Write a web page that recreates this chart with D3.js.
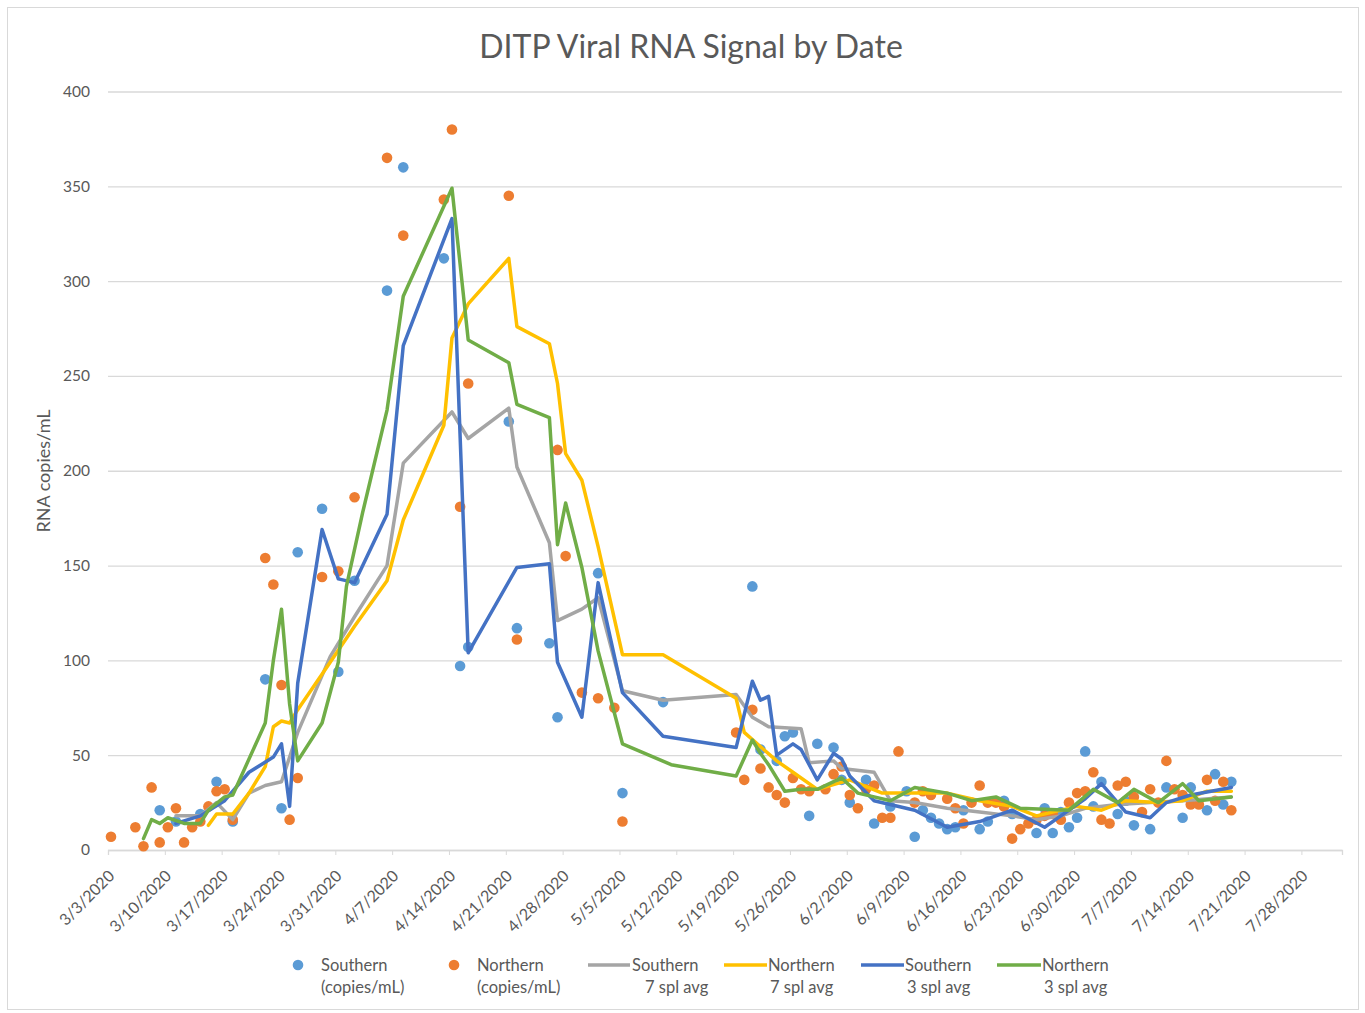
<!DOCTYPE html>
<html><head><meta charset="utf-8">
<script src="https://cdn.jsdelivr.net/npm/d3@7"></script>
<style>
html,body{margin:0;padding:0;background:#fff;}
svg text{font-family:Lato,"Open Sans","Liberation Sans",sans-serif;fill:#595959;}
</style></head>
<body><svg id="c" width="1365" height="1013"></svg>
<script>
const xTickLabels = ["3/3/2020","3/10/2020","3/17/2020","3/24/2020","3/31/2020","4/7/2020","4/14/2020","4/21/2020","4/28/2020","5/5/2020","5/12/2020","5/19/2020","5/26/2020","6/2/2020","6/9/2020","6/16/2020","6/23/2020","6/30/2020","7/7/2020","7/14/2020","7/21/2020","7/28/2020"];
const yTicks = [0,50,100,150,200,250,300,350,400];

const southern = [["3/9",21],["3/11",15],["3/14",19],["3/16",36],["3/18",15],["3/22",90],["3/24",22],["3/26",157],["3/29",180],["3/31",94],["4/2",142],["4/6",295],["4/8",360],["4/13",312],["4/15",97],["4/16",107],["4/21",226],["4/22",117],["4/26",109],["4/27",70],["5/2",146],["5/5",30],["5/10",78],["5/21",139],["5/22",53],["5/24",47],["5/25",60],["5/26",62],["5/28",18],["5/29",56],["5/31",54],["6/1",37],["6/2",25],["6/4",37],["6/5",14],["6/7",23],["6/9",31],["6/10",7],["6/11",21],["6/12",17],["6/13",14],["6/14",11],["6/15",12],["6/16",21],["6/18",11],["6/19",15],["6/21",26],["6/22",19],["6/25",9],["6/26",22],["6/27",9],["6/28",20],["6/29",12],["6/30",17],["7/1",52],["7/2",23],["7/3",36],["7/5",19],["7/6",26],["7/7",13],["7/9",11],["7/11",33],["7/13",17],["7/14",33],["7/16",21],["7/17",40],["7/18",24],["7/19",36]];

const northern = [["3/3",7],["3/6",12],["3/7",2],["3/8",33],["3/9",4],["3/10",12],["3/11",22],["3/12",4],["3/13",12],["3/14",15],["3/15",23],["3/16",31],["3/17",32],["3/18",16],["3/22",154],["3/23",140],["3/24",87],["3/25",16],["3/26",38],["3/29",144],["3/31",147],["4/2",186],["4/6",365],["4/8",324],["4/13",343],["4/14",380],["4/15",181],["4/16",246],["4/21",345],["4/22",111],["4/27",211],["4/28",155],["4/30",83],["5/2",80],["5/4",75],["5/5",15],["5/19",62],["5/20",37],["5/21",74],["5/22",43],["5/23",33],["5/24",29],["5/25",25],["5/26",38],["5/27",32],["5/28",31],["5/30",32],["5/31",40],["6/1",44],["6/2",29],["6/3",22],["6/4",32],["6/5",34],["6/6",17],["6/7",17],["6/8",52],["6/10",25],["6/11",31],["6/12",29],["6/14",27],["6/15",22],["6/16",14],["6/17",25],["6/18",34],["6/19",25],["6/20",25],["6/21",23],["6/22",6],["6/23",11],["6/24",14],["6/25",16],["6/26",18],["6/27",19],["6/28",16],["6/29",25],["6/30",30],["7/1",31],["7/2",41],["7/3",16],["7/4",14],["7/5",34],["7/6",36],["7/7",28],["7/8",20],["7/9",32],["7/10",25],["7/11",47],["7/12",32],["7/13",29],["7/14",24],["7/15",24],["7/16",37],["7/17",26],["7/18",36],["7/19",21]];

const southern7 = [["3/11",18],["3/14",18],["3/16",25],["3/18",16],["3/20",30],["3/22",34],["3/24",36],["3/26",62],["3/30",102],["4/2",123],["4/6",150],["4/8",204],["4/14",231],["4/16",217],["4/21",233],["4/22",202],["4/26",162],["4/27",121],["4/30",127],["5/2",133],["5/5",84],["5/10",79],["5/19",82],["5/21",70],["5/23",65],["5/27",64],["5/28",46],["5/31",47],["6/1",43],["6/5",41],["6/7",26],["6/10",25],["6/14",22],["6/18",20],["6/22",18],["6/25",16],["6/28",18],["7/1",22],["7/5",24],["7/9",25],["7/13",26],["7/19",28]];

const northern7 = [["3/15",13],["3/16",19],["3/18",19],["3/20",30],["3/22",44],["3/23",65],["3/24",68],["3/25",67],["3/26",74],["3/30",99],["4/2",118],["4/6",142],["4/8",174],["4/13",224],["4/14",270],["4/16",288],["4/21",312],["4/22",276],["4/26",267],["4/27",246],["4/28",209],["4/30",195],["5/2",160],["5/5",103],["5/10",103],["5/19",80],["5/20",62],["5/24",47],["5/26",41],["5/29",32],["6/2",37],["6/6",30],["6/9",30],["6/14",30],["6/18",26],["6/22",23],["6/25",18],["6/30",23],["7/3",21],["7/6",26],["7/10",25],["7/13",26],["7/16",31],["7/19",31]];

const southern3 = [["3/11",14],["3/14",18],["3/17",26],["3/20",41],["3/23",49],["3/24",56],["3/25",23],["3/26",88],["3/29",169],["3/31",143],["4/2",141],["4/6",177],["4/8",266],["4/14",333],["4/16",104],["4/22",149],["4/26",151],["4/27",99],["4/30",70],["5/2",141],["5/5",83],["5/10",60],["5/19",54],["5/21",89],["5/22",79],["5/23",81],["5/24",50],["5/26",56],["5/27",53],["5/29",37],["5/31",51],["6/1",48],["6/2",39],["6/5",26],["6/10",21],["6/14",12],["6/18",15],["6/22",21],["6/26",12],["6/28",18],["7/1",27],["7/3",35],["7/6",20],["7/9",17],["7/11",25],["7/14",29],["7/19",33]];

const northern3 = [["3/7",6],["3/8",16],["3/9",14],["3/10",17],["3/12",14],["3/14",14],["3/15",21],["3/17",28],["3/18",29],["3/22",67],["3/23",100],["3/24",127],["3/25",77],["3/26",47],["3/29",67],["3/31",99],["4/1",139],["4/3",178],["4/6",232],["4/8",292],["4/14",349],["4/16",269],["4/21",257],["4/22",235],["4/26",228],["4/27",161],["4/28",183],["4/30",149],["5/2",105],["5/5",56],["5/11",45],["5/19",39],["5/21",58],["5/22",51],["5/23",45],["5/25",31],["5/27",32],["5/29",32],["6/1",38],["6/3",30],["6/5",28],["6/7",26],["6/10",33],["6/14",30],["6/17",26],["6/20",28],["6/23",22],["6/29",21],["7/2",32],["7/5",25],["7/7",32],["7/10",25],["7/13",35],["7/15",26],["7/19",28]];

const parse = d3.utcParse("%m/%d/%Y");
const pd = s => parse(s + "/2020");
const svg = d3.select("#c");

svg.append("rect").attr("x",7.5).attr("y",7.5).attr("width",1351).attr("height",1002)
  .attr("fill","#fff").attr("stroke","#d9d9d9").attr("stroke-width",1);

const x = d3.scaleUtc().domain([pd("3/3"), pd("8/2")]).range([108, 1342]);
const y = d3.scaleLinear().domain([0,400]).range([850, 91.5]);
const markShift = 3; // samples plotted slightly after midnight of their date
const mx = d => x(pd(d[0])) + markShift;

const ya = svg.append("g").attr("transform","translate(108,0)")
  .call(d3.axisLeft(y).tickValues(yTicks).tickSize(-1234).tickPadding(18).tickFormat(d3.format("d")));
ya.select(".domain").remove();
ya.selectAll(".tick line").attr("stroke","#d9d9d9").attr("stroke-width",1.3);
ya.selectAll(".tick text").attr("font-size",15.5).style("font-family","Lato").attr("fill","#595959");

const xa = svg.append("g").attr("transform","translate(0,850)")
  .call(d3.axisBottom(x).tickValues(xTickLabels.map(parse)).tickSize(5)
    .tickFormat((d,i)=>xTickLabels[i]));
xa.select(".domain").attr("stroke","#d9d9d9").attr("stroke-width",1.3);
xa.selectAll(".tick line").attr("stroke","#d9d9d9");
xa.selectAll(".tick text").attr("font-size",16).attr("fill","#505050")
  .attr("text-anchor","end").attr("dy",0).attr("y",0)
  .attr("transform","translate(7,27) rotate(-45)");

svg.append("text").attr("x",691).attr("y",58).attr("text-anchor","middle")
  .attr("font-size",32).text("DITP Viral RNA Signal by Date");
svg.append("text").attr("transform","translate(50,471) rotate(-90)").attr("text-anchor","middle")
  .attr("font-size",18).text("RNA copies/mL");

const sCol = "#5B9BD5", nCol = "#ED7D31";
function dots(data, col){
  svg.append("g").selectAll("circle").data(data).join("circle")
    .attr("cx",mx).attr("cy",d=>y(d[1])).attr("r",5.3).attr("fill",col);
}
dots(southern, sCol);
dots(northern, nCol);

const line = d3.line().x(mx).y(d=>y(d[1]));
function ln(data, col){
  svg.append("path").datum(data).attr("d",line).attr("fill","none").attr("stroke",col)
    .attr("stroke-width",3.5).attr("stroke-linejoin","round").attr("stroke-linecap","round");
}
ln(southern7, "#A5A5A5");
ln(northern7, "#FFC000");
ln(southern3, "#4472C4");
ln(northern3, "#70AD47");

const legend = [
  {type:"dot", col:sCol, x:298, tx:321, l1:"Southern", l2:"(copies/mL)", t2x:321},
  {type:"dot", col:nCol, x:454, tx:477, l1:"Northern", l2:"(copies/mL)", t2x:477},
  {type:"line", col:"#A5A5A5", x:588, x2:630, tx:632, l1:"Southern", l2:"7 spl avg", t2x:645},
  {type:"line", col:"#FFC000", x:724, x2:767, tx:768, l1:"Northern", l2:"7 spl avg", t2x:770},
  {type:"line", col:"#4472C4", x:861, x2:904, tx:905, l1:"Southern", l2:"3 spl avg", t2x:907},
  {type:"line", col:"#70AD47", x:997, x2:1041, tx:1042, l1:"Northern", l2:"3 spl avg", t2x:1044}
];
const lg = svg.append("g");
legend.forEach(L=>{
  if(L.type==="dot") lg.append("circle").attr("cx",L.x).attr("cy",965).attr("r",5.3).attr("fill",L.col);
  else lg.append("line").attr("x1",L.x).attr("x2",L.x2).attr("y1",965).attr("y2",965)
        .attr("stroke",L.col).attr("stroke-width",3.5);
  lg.append("text").attr("x",L.tx).attr("y",970.5).attr("font-size",16.5).text(L.l1);
  lg.append("text").attr("x",L.t2x).attr("y",992.5).attr("font-size",16.5).text(L.l2);
});
</script></body></html>
